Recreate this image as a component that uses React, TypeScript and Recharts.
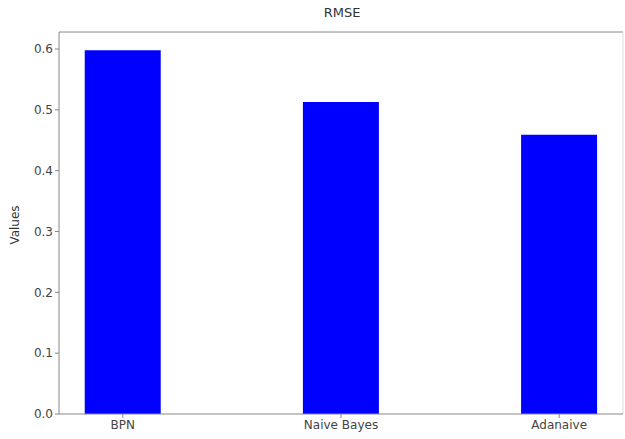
import type { FC } from 'react'
import { BarChart, Bar, XAxis, YAxis, ReferenceLine } from 'recharts'

const categories = ['BPN', 'Naive Bayes', 'Adanaive']
const rmseValues = [0.598, 0.513, 0.459]
const yTicks = [0, 0.1, 0.2, 0.3, 0.4, 0.5, 0.6]

const BAR_WIDTH = 0.35
const PAD = BAR_WIDTH / 2 + 0.05 * (categories.length - 1 + BAR_WIDTH)
const X_MIN = -PAD
const X_MAX = categories.length - 1 + PAD
const Y_MAX = Math.max(...rmseValues) * 1.05

const data = categories.map((name, i) => ({ pos: i, name, value: rmseValues[i] }))

const font = '"DejaVu Sans", sans-serif'
const tickStyle = { fontSize: 12, fill: '#444', fontFamily: font }

const App: FC = () => (
  <div style={{ position: 'absolute', left: 0, top: 0, width: 625, height: 439, background: '#fff' }}>
    <div
      style={{
        position: 'absolute',
        left: 0,
        width: 684,
        top: 5,
        textAlign: 'center',
        fontFamily: font,
        fontSize: 13,
        color: '#333',
      }}
    >
      RMSE
    </div>
    <div
      style={{
        position: 'absolute',
        left: 15,
        top: 225,
        transform: 'translate(-50%, -50%) rotate(-90deg)',
        fontFamily: font,
        fontSize: 12,
        color: '#333',
      }}
    >
      Values
    </div>
    <BarChart
      width={625}
      height={439}
      data={data}
      margin={{ top: 32, right: 2, left: 0, bottom: 0 }}
      style={{ position: 'absolute', left: 0, top: 0 }}
    >
      <XAxis
        dataKey="pos"
        type="number"
        domain={[X_MIN, X_MAX]}
        ticks={[0, 1, 2]}
        tickFormatter={(v: number) => categories[v] ?? ''}
        height={25}
        tick={tickStyle}
        tickSize={4}
        stroke="#888"
        allowDataOverflow
      />
      <YAxis
        type="number"
        domain={[0, Y_MAX]}
        ticks={yTicks}
        tickFormatter={(v: number) => v.toFixed(1)}
        width={59}
        tick={tickStyle}
        tickSize={4}
        stroke="#888"
        allowDataOverflow
      />
      <ReferenceLine y={Y_MAX} stroke="#888" />
      <ReferenceLine x={X_MAX} stroke="#ddd" />
      <Bar dataKey="value" fill="#0000ff" barSize={76} isAnimationActive={false} />
    </BarChart>
  </div>
)

export default App
